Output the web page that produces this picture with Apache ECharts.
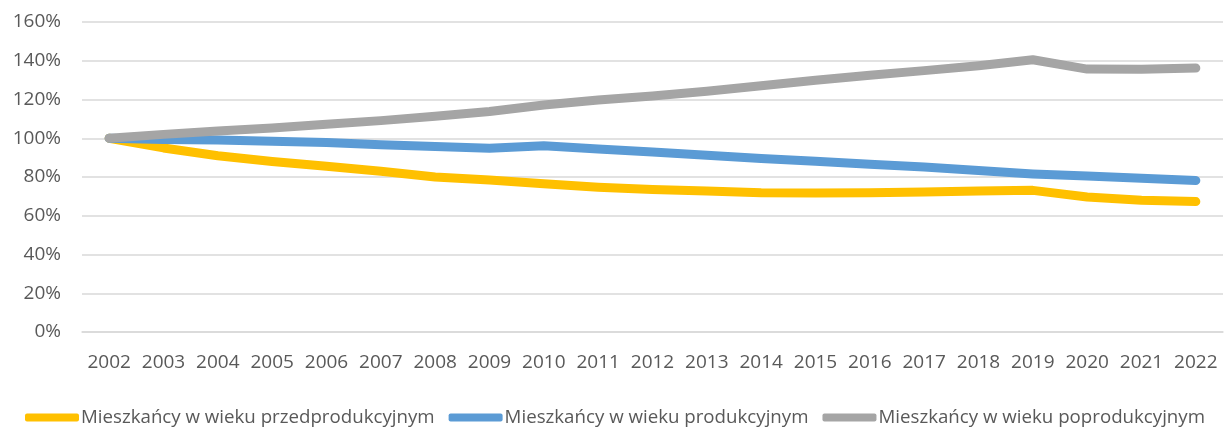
<!DOCTYPE html>
<html>
<head>
<meta charset="utf-8">
<script src="https://cdn.jsdelivr.net/npm/echarts@6/dist/echarts.min.js"></script>
<style>
    html, body { margin: 0; padding: 0; background: #fff; }
    #chart { width: 1230px; height: 427px; }
</style>
</head>
<body>
<div id="chart"></div>
<script>
var years = ['2002', '2003', '2004', '2005', '2006', '2007', '2008', '2009', '2010', '2011', '2012',
    '2013', '2014', '2015', '2016', '2017', '2018', '2019', '2020', '2021', '2022'];

var seriesNames = ['Mieszkańcy w wieku przedprodukcyjnym', 'Mieszkańcy w wieku produkcyjnym', 'Mieszkańcy w wieku poprodukcyjnym'];

// wartości w % (2002 = 100%)
var przed = [100, 95, 91, 88, 85.5, 83, 80, 78.5, 76.5, 74.7, 73.5, 72.8, 71.9, 71.7, 71.9, 72.2, 72.8, 73.1, 69.7, 68, 67.3];
var prod = [100, 99.3, 99.1, 98.5, 97.8, 96.7, 95.7, 94.8, 96.1, 94.4, 92.9, 91.2, 89.6, 88.1, 86.6, 85.2, 83.3, 81.6, 80.5, 79.4, 78.2];
var po = [100, 102, 103.8, 105.3, 107.2, 109.1, 111.3, 113.8, 117.2, 119.7, 121.8, 124.3, 127.1, 129.9, 132.5, 134.9, 137.4, 140.5, 135.7, 135.6, 136.2];

var colors = ['#FFC000', '#5B9BD5', '#A5A5A5'];
var yTicks = [0, 20, 40, 60, 80, 100, 120, 140, 160];

var font = 'Open Sans';
var textColor = '#595959';

function makeSeries(name, data, color) {
    return {
        name: name,
        type: 'line',
        data: data,
        showSymbol: false,
        symbol: 'none',
        color: color,
        lineStyle: { width: 9, color: color, cap: 'round', join: 'round' },
        emphasis: { disabled: true }
    };
}

var myChart = echarts.init(document.getElementById('chart'));

var option = {
    animation: false,
    textStyle: { fontFamily: font },
    grid: { left: 82, right: 7, top: 22, bottom: 95, containLabel: false },
    legend: {
        top: 408,
        left: 'center',
        padding: 0,
        itemGap: 14,
        itemWidth: 54,
        itemHeight: 8,
        icon: 'roundRect',
        textStyle: { fontFamily: font, fontSize: 18.7, color: textColor, padding: [0, 0, 0, -3] },
        data: seriesNames
    },
    xAxis: {
        type: 'category',
        data: years,
        boundaryGap: true,
        axisLine: { show: true, lineStyle: { color: '#D9D9D9', width: 1.5 } },
        axisTick: { show: false },
        axisLabel: { fontFamily: font, fontSize: 19, color: textColor, margin: 21, interval: 0 }
    },
    yAxis: {
        type: 'value',
        min: yTicks[0],
        max: yTicks[yTicks.length - 1],
        interval: 20,
        axisLine: { show: false },
        axisTick: { show: false },
        splitLine: { lineStyle: { color: '#D9D9D9', width: 1.5 } },
        axisLabel: {
            fontFamily: font, fontSize: 19, color: textColor, margin: 21,
            formatter: function(v) { return v + '%'; }
        }
    },
    series: [
        makeSeries(seriesNames[0], przed, colors[0]),
        makeSeries(seriesNames[1], prod, colors[1]),
        makeSeries(seriesNames[2], po, colors[2])
    ]
};

myChart.setOption(option);
</script>
</body>
</html>
